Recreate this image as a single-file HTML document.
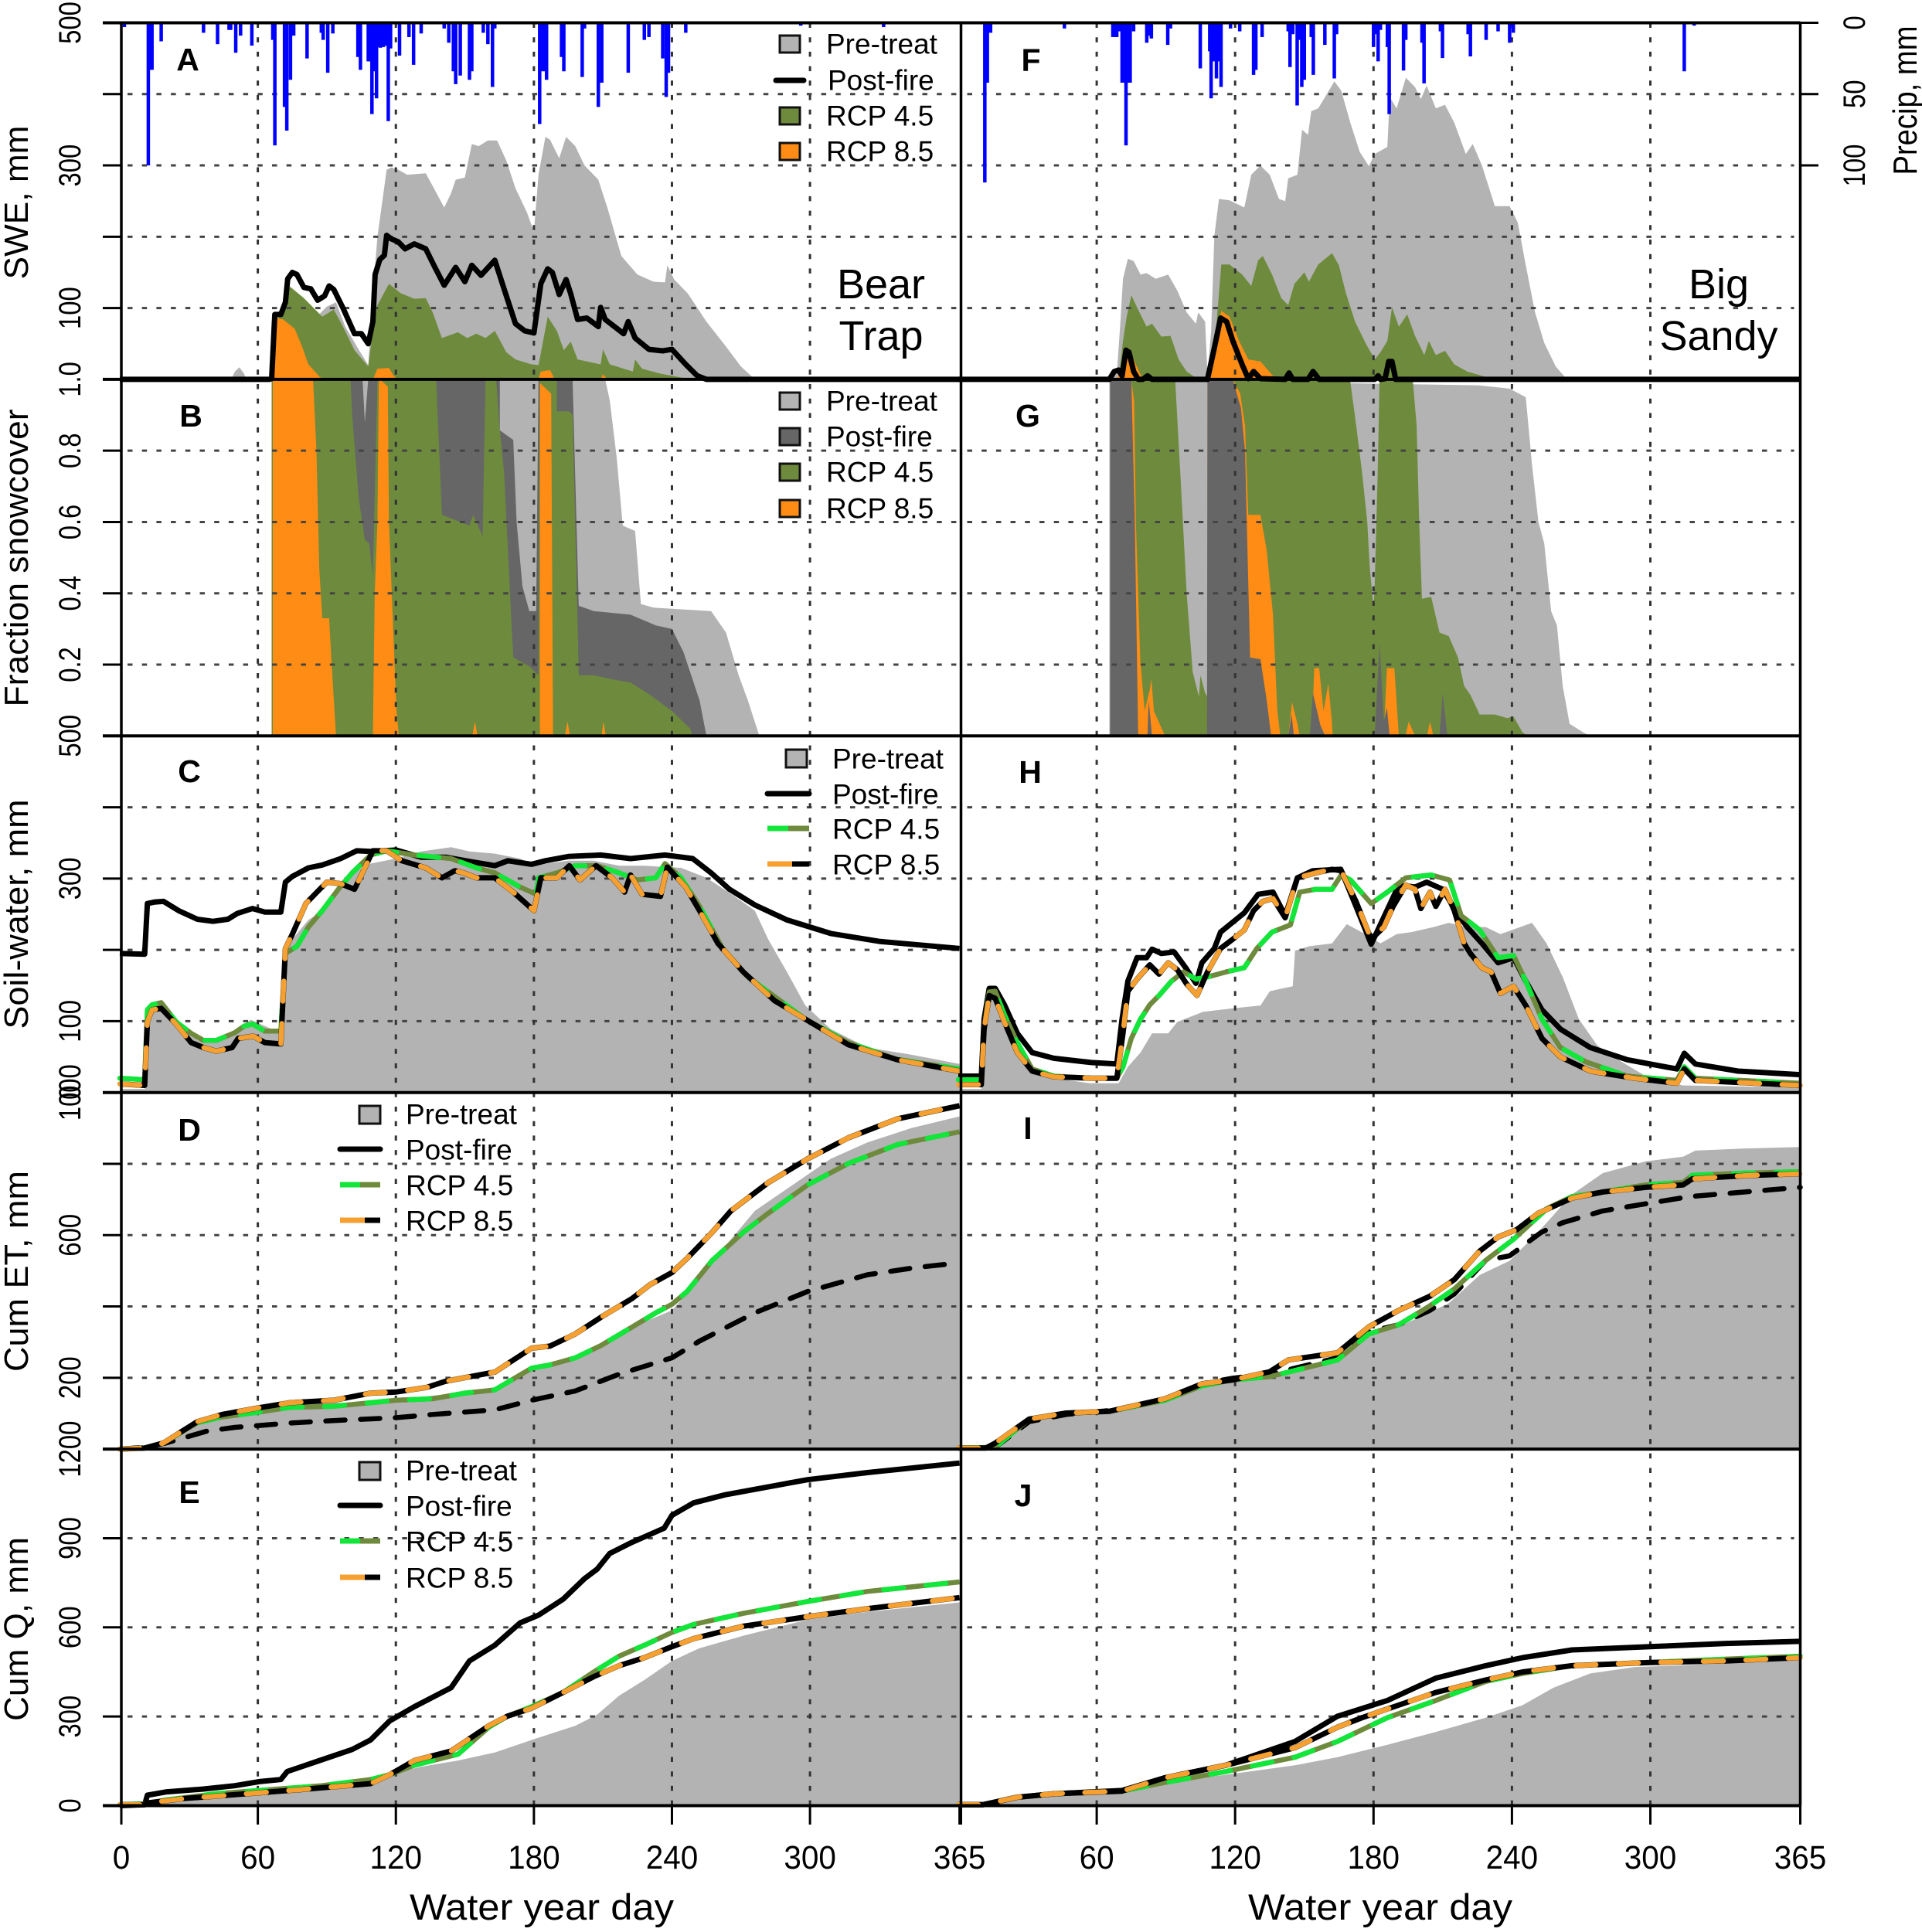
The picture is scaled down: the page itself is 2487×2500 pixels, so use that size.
<!DOCTYPE html>
<html lang="en">
<head>
<meta charset="utf-8">
<title>Snow, soil water, ET and streamflow at Bear Trap and Big Sandy</title>
<style>
html,body{margin:0;padding:0;background:#fff;width:2487px;height:2500px;overflow:hidden}
svg{display:block;font-family:"Liberation Sans",Arial,sans-serif;fill:#000}
.leg{font-size:37px;dominant-baseline:central}
.let{font-size:41px;font-weight:bold;text-anchor:middle;dominant-baseline:central}
.site{font-size:54px;text-anchor:middle}
.ttl{font-size:44px;text-anchor:middle}
.xttl{font-size:47px;text-anchor:middle}
.sw{stroke:#111;stroke-width:3}
</style>
</head>
<body>
<svg id="chart" xmlns="http://www.w3.org/2000/svg" width="2487" height="2500" viewBox="0 0 2487 2500">
<rect x="0" y="0" width="2487" height="2500" fill="#fff"/>
<g id="fills"></g>
<g id="grid"></g>
<g id="lines"></g>
<g id="precip"></g>
<g id="axes"></g>

<g>
<text class="ttl" transform="translate(36,262) rotate(-90)" textLength="199" lengthAdjust="spacingAndGlyphs">SWE, mm</text>
<text class="ttl" transform="translate(36,722) rotate(-90)" textLength="385" lengthAdjust="spacingAndGlyphs">Fraction snowcover</text>
<text class="ttl" transform="translate(36,1183) rotate(-90)" textLength="297" lengthAdjust="spacingAndGlyphs">Soil-water, mm</text>
<text class="ttl" transform="translate(36,1645) rotate(-90)" textLength="260" lengthAdjust="spacingAndGlyphs">Cum ET, mm</text>
<text class="ttl" transform="translate(36,2108) rotate(-90)" textLength="238" lengthAdjust="spacingAndGlyphs">Cum Q, mm</text>
<text class="ttl" transform="translate(2480,130) rotate(-90)" textLength="193" lengthAdjust="spacingAndGlyphs">Precip, mm</text>
</g>
<text class="xttl" x="701" y="2484" textLength="342" lengthAdjust="spacingAndGlyphs">Water year day</text>
<text class="xttl" x="1786" y="2484" textLength="342" lengthAdjust="spacingAndGlyphs">Water year day</text>

<text class="site" x="1140" y="386">Bear</text>
<text class="site" x="1140" y="453">Trap</text>
<text class="site" x="2224" y="386">Big</text>
<text class="site" x="2224" y="453">Sandy</text>

<text class="let" x="243" y="77">A</text>
<text class="let" x="247" y="538">B</text>
<text class="let" x="245" y="998">C</text>
<text class="let" x="245" y="1462">D</text>
<text class="let" x="245" y="1931">E</text>
<text class="let" x="1334" y="78">F</text>
<text class="let" x="1330" y="538">G</text>
<text class="let" x="1333" y="999">H</text>
<text class="let" x="1330" y="1460">I</text>
<text class="let" x="1324" y="1935">J</text>

<g>
<rect class="sw" x="1009" y="46" width="26" height="22" fill="#b3b3b3"/>
<text class="leg" x="1069" y="57">Pre-treat</text>
<line x1="1004" x2="1040" y1="104" y2="104" stroke="#000" stroke-width="7" stroke-linecap="round"/>
<text class="leg" x="1071" y="104">Post-fire</text>
<rect class="sw" x="1009" y="139" width="26" height="22" fill="#6e8b3d"/>
<text class="leg" x="1069" y="150">RCP 4.5</text>
<rect class="sw" x="1009" y="185" width="26" height="22" fill="#ff8c14"/>
<text class="leg" x="1069" y="196">RCP 8.5</text>
</g>
<g>
<rect class="sw" x="1009" y="508" width="26" height="22" fill="#b3b3b3"/>
<text class="leg" x="1069" y="519">Pre-treat</text>
<rect class="sw" x="1009" y="554" width="26" height="22" fill="#666"/>
<text class="leg" x="1069" y="565">Post-fire</text>
<rect class="sw" x="1009" y="600" width="26" height="22" fill="#6e8b3d"/>
<text class="leg" x="1069" y="611">RCP 4.5</text>
<rect class="sw" x="1009" y="647" width="26" height="22" fill="#ff8c14"/>
<text class="leg" x="1069" y="658">RCP 8.5</text>
</g>
<g>
<rect class="sw" x="1017" y="970" width="27" height="23" fill="#b3b3b3"/>
<text class="leg" x="1077" y="982">Pre-treat</text>
<line x1="993" x2="1047" y1="1027" y2="1027" stroke="#000" stroke-width="7" stroke-linecap="round"/>
<text class="leg" x="1077" y="1028">Post-fire</text>
<line x1="1020" x2="1047" y1="1072" y2="1072" stroke="#6e8b3d" stroke-width="7"/>
<line x1="993" x2="1020" y1="1072" y2="1072" stroke="#12e63a" stroke-width="7"/>
<text class="leg" x="1077" y="1073">RCP 4.5</text>
<line x1="1025" x2="1047" y1="1118" y2="1118" stroke="#000" stroke-width="7"/>
<line x1="993" x2="1025" y1="1118" y2="1118" stroke="#f5a030" stroke-width="7"/>
<text class="leg" x="1077" y="1119">RCP 8.5</text>
</g>
<g>
<rect class="sw" x="465" y="1431" width="27" height="23" fill="#b3b3b3"/>
<text class="leg" x="525" y="1442">Pre-treat</text>
<line x1="440" x2="492" y1="1487" y2="1487" stroke="#000" stroke-width="7" stroke-linecap="round"/>
<text class="leg" x="525" y="1488">Post-fire</text>
<line x1="466" x2="492" y1="1533" y2="1533" stroke="#6e8b3d" stroke-width="7"/>
<line x1="440" x2="466" y1="1533" y2="1533" stroke="#12e63a" stroke-width="7"/>
<text class="leg" x="525" y="1534">RCP 4.5</text>
<line x1="472" x2="492" y1="1579" y2="1579" stroke="#000" stroke-width="7"/>
<line x1="440" x2="472" y1="1579" y2="1579" stroke="#f5a030" stroke-width="7"/>
<text class="leg" x="525" y="1580">RCP 8.5</text>
</g>
<g>
<rect class="sw" x="465" y="1892" width="27" height="23" fill="#b3b3b3"/>
<text class="leg" x="525" y="1903">Pre-treat</text>
<line x1="440" x2="492" y1="1948" y2="1948" stroke="#000" stroke-width="7" stroke-linecap="round"/>
<text class="leg" x="525" y="1949">Post-fire</text>
<line x1="466" x2="492" y1="1994" y2="1994" stroke="#6e8b3d" stroke-width="7"/>
<line x1="440" x2="466" y1="1994" y2="1994" stroke="#12e63a" stroke-width="7"/>
<text class="leg" x="525" y="1995">RCP 4.5</text>
<line x1="472" x2="492" y1="2041" y2="2041" stroke="#000" stroke-width="7"/>
<line x1="440" x2="472" y1="2041" y2="2041" stroke="#f5a030" stroke-width="7"/>
<text class="leg" x="525" y="2042">RCP 8.5</text>
</g>
</svg>

<script>
// ---------- tick values and labels ----------
const xTickDays=[0,60,120,180,240,300,365];
const sweTicks=[0,100,200,300,400,500];
const coverTicks=[0,0.2,0.4,0.6,0.8,1];
const soilTicks=[0,100,200,300,400,500];
const etTicks=[0,200,400,600,800,1000];
const qTicks=[0,300,600,900,1200];
const sweLabels=["100","300","500"];
const coverLabels=["0.2","0.4","0.6","0.8","1.0"];
const soilLabels=["0","100","300","500"];
const etLabels=["200","600","1000"];
const qLabels=["0","300","600","900","1200"];
const precipLabels=["0","50","100"];

// ---------- precipitation (day, mm) ----------
const precipBearDays=[2,12.4,13,14,18,36.4,42.5,47.5,48.2,50.4,52.5,57.4,66.5,67.4,71.6,72.6,74.2,75.6,81.4,87.6,88.4,90.4,92.6,103.5,104.6,108,108.6,109.6,110.6,111.6,112.6,113.3,114.6,115.6,116.7,117.7,121.6,125.7,127.7,131,141,143,145,146,148,152,153,158,160,162,163,182.5,184,185.5,192,193,201,202,208,209.5,221,228,230,236,237.5,238.5,246,296,332];
const precipBearMm=[3,100,33,33,13,7,15,5,5,21,9,16,12,86,59,75.6,40,9,25,7,12,35,7.5,24,33,27,27,64,34,53,17,17.5,17,16,69,18,23,10,29.5,7.5,4,14,34,43,37,40,34,7,15,45,4,71,34,40,24,34,38,4,59,42,35,12,10,25,52,35,7,2,3];
const precipSandyDays=[11.5,12.6,14,46,67,68,68.7,70,71,72,72.7,73.5,74.5,76,81.7,83,83.7,90.8,92,104.9,109,109.6,110.5,111.9,113,113.9,118,122,128,129,131.7,143,143.8,145,146.9,147.6,148.9,150,153,153.9,158.9,163,164,180,181,182,183,186,186.8,193,194,201,201.9,209,209.9,221,222,228.8,234,239,240.6,314.7,319];
const precipSandyMm=[112,42,7,4,10,10,10,6,42,42,86,42,42,6,14,9,11,15.5,4,32,20,53,27,39,27,45,4,6,36.5,33,10,6,31,8,58,12,45,40,10,36.5,15.5,39,8,17,8,27,5,17,64,33.5,12,14,42.5,6,24.7,8,23.6,12,6,14,7,34,2];

// ---------- SWE, mm : [day, value] ----------
const sweBearPre=[[48.5,0],[50,11],[52,17],[54,8],[55,0],[65,0],[66,81],[70,89],[74,128],[80,107],[86,89],[90,102],[94,108],[98,74],[104,41],[108,20],[110,121],[112,200],[116,294],[118,297],[121,294],[125,287],[133,289],[136,271],[141,241],[144,261],[146,280],[150,283],[153,330],[156,327],[160,335],[164,335],[168,307],[172,268],[177,234],[180,207],[182,287],[185,340],[187,336],[191,310],[194,340],[198,327],[202,300],[208,280],[212,240],[218,173],[225,147],[232,137],[237,136],[238,160],[241,140],[247,120],[255,81],[263,48],[270,18],[276,0]];
const sweBear45=[[66,0],[66,81],[70,89],[74,130],[80,114],[84,101],[88,88],[93,98],[97,74],[102,41],[108,18],[110,68],[112,104],[117,134],[122,121],[128,113],[133,114],[136,94],[140,58],[147,66],[151,58],[155,64],[159,58],[163,68],[168,38],[172,28],[179,21],[182,20],[184,54],[186,88],[190,68],[193,41],[196,53],[199,28],[209,21],[210,42],[213,21],[223,11],[224,28],[227,15],[235,8],[247,1],[250,0]];
const sweBear85=[[67,0],[67.5,86],[71,84],[76,71],[79,48],[82,21],[87,3],[90,0],[110,0],[112,15],[117,16],[119,5],[121,0],[182,0],[183,11],[187,13],[189,0],[209,0],[210,7],[212,0]];
const sweBearPost=[[0,0],[65,0],[66,1],[67.4,91],[70,91],[72,108],[73,141],[75,150],[77,147],[80,129],[83,127],[86,111],[89,117],[91,131],[93,126],[97,100],[102,64],[105,64],[108,50],[110,81],[111,147],[113,168],[115,174],[116,202],[118,197],[121,193],[124,183],[128,190],[133,183],[137,157],[141,132],[146,157],[150,137],[153,160],[157,146],[163,167],[167,127],[172,78],[176,68],[180,65],[183,134],[186,155],[188,150],[191,119],[194,140],[196,120],[199,84],[203,86],[208,74],[209,101],[211,84],[219,64],[221,81],[224,58],[230,42],[236,40],[240,42],[246,21],[251,5],[255,0],[365,0]];
const sweSandyPre=[[65.5,0],[68.7,8],[70.3,81],[71.4,141],[73.5,169],[76,166],[79,147],[81.6,149],[85.6,141],[91,147],[95,124],[99,94],[103,78],[104,94],[107,81],[108,5],[109.6,68],[111,201],[113,253],[117.6,251],[124,241],[127,287],[131,300],[135,287],[139,253],[141.7,250],[143,282],[147,287],[149,350],[151.6,343],[153,376],[156,380],[159,396],[163,418],[166,405],[170,359],[174,319],[178,299],[180.5,316],[186,326],[187,396],[190,380],[194,423],[198,410],[200.5,393],[203,412],[207,380],[211,385],[215,360],[220,316],[223,330],[227,300],[232.6,243],[239,243],[242.5,220],[246,160],[250,94],[254,51],[259,18],[263,3],[266,0]];
const sweSandy45=[[69.5,0],[71.4,54],[73,88],[75,118],[77.5,101],[81.6,74],[84,78],[88,60],[92,61],[95.5,28],[99,11],[104,0],[108,0],[109.6,8],[112,81],[114,161],[117.6,161],[123,147],[127,131],[130,167],[132,173],[136,147],[140,114],[143,104],[145.7,134],[150,150],[152,137],[156,161],[162,177],[165,160],[168,121],[172,81],[176.5,51],[180.5,28],[183,38],[186,54],[188,101],[191,74],[194.6,91],[198,61],[202,34],[204,54],[207,34],[211,40],[215,21],[220.6,11],[229,3],[234,0]];
const sweSandy85=[[68.7,0],[71,21],[74,44],[77,21],[80,0],[108,0],[111,54],[114,96],[117.6,88],[121.7,54],[125.7,28],[131,25],[137.7,0]];
const sweSandyPost=[[0,0],[65.5,0],[67.6,11],[69.5,13],[71,5],[72.7,41],[74,38],[76,11],[78,0],[80,0],[82,5],[84,0],[108,0],[111,44],[113.7,86],[116.3,81],[119,54],[123,21],[125.7,1],[128,11],[131,1],[141.7,0],[143.4,9],[145,0],[151.6,0],[153.8,11],[156.4,0],[180.5,0],[182,5],[183,0],[185,1],[186.6,25],[188,25],[189.6,0],[365,0]];

// ---------- Fraction snowcover ----------
const coverBearPre=[[66,0],[66,1],[211,1],[213,.94],[216,.78],[218.6,.59],[224,.575],[226.5,.37],[232,.36],[257,.35],[263.5,.29],[269,.17],[273,.10],[278,0]];
const coverBearPost=[[66,0],[66,1],[105.5,1],[106.5,.88],[108,1],[165.2,1],[165.2,.857],[171,.83],[172.5,.60],[175,.42],[178,.35],[181,.35],[182,1],[196.8,1],[199.5,.365],[206,.35],[222,.34],[233,.31],[240,.30],[245,.235],[252,.10],[255,0]];
const coverBear45=[[66,0],[66,1],[100.3,1],[101,.90],[103.8,.67],[106.5,.55],[108.4,.54],[110,.45],[112,1],[137.5,1],[140,.62],[152,.59],[153.6,.62],[157.7,.56],[159,1],[163.6,1],[165,.87],[167,.74],[171,.22],[178,.195],[182,.17],[182.5,1],[190,1],[190,.91],[195.4,.91],[196.8,.90],[199.5,.17],[206,.17],[217,.155],[222,.15],[230.5,.115],[240,.07],[248,.02],[248.8,0]];
const coverBear85=[[66.5,0],[66.5,1],[84,1],[85.5,.80],[86.7,.47],[88,.33],[91,.33],[92,.21],[94,0],[110,0],[110.8,.40],[112,.60],[112.6,.99],[113,1],[116.5,.98],[117,.60],[119,.27],[120.3,.07],[121.3,0],[153.2,0],[154.4,.04],[155.5,0],[182.6,0],[182.6,.99],[187.5,.96],[188.3,0],[193.5,0],[194.6,.04],[195.7,0],[209.4,0],[210.2,.04],[211.3,0]];
const coverSandyPre=[[65.5,0],[65.5,1],[226,.983],[239,.974],[246,.95],[248.7,.76],[251.5,.60],[254,.54],[257,.35],[259.5,.31],[262,.14],[265,.034],[271.4,.008],[274,0]];
const coverSandy45=[[66,0],[67,1],[94,1],[96.2,.74],[99,.40],[101.6,.18],[104.3,.11],[105,.17],[107,.12],[108.3,.107],[109,1],[169.8,1],[172.5,.87],[175,.74],[177.3,.60],[178.4,.47],[180,.36],[180.5,.42],[181.8,.74],[182.6,1],[197,1],[198.7,.87],[199.8,.60],[201,.385],[205,.39],[208.6,.29],[212.6,.28],[216.6,.22],[219.3,.14],[222,.115],[226,.06],[232.6,.06],[238,.05],[240.6,.055],[244.6,.01],[247,0]];
const coverSandy85=[[66,0],[66,1],[74.9,1],[76.2,.94],[77,.60],[78.9,.21],[80.8,.07],[83,.13],[83.7,.16],[84.8,.07],[88.2,.02],[89.6,0],[108,0],[108,1],[119,1],[122.2,.96],[124.3,.87],[125.7,.62],[131,.62],[133.7,.52],[136.4,.34],[138.3,.07],[139.6,0],[143,0],[144.7,.094],[147,.034],[148,0],[153.2,0],[154.3,.19],[156.4,.19],[158.3,.07],[160.4,.147],[161.8,.05],[162.3,0],[184.5,0],[185.8,.19],[189,.19],[191,0],[193.9,0],[195.2,.04],[198,0],[203.2,0],[204.5,.04],[205.9,0]];
const coverSandyPost=[[65.8,0],[65.8,1],[75,1],[76.5,.60],[78,0],[82,0],[82.5,.10],[84,0],[107.8,0],[108,1],[119,1],[122.5,.92],[124.3,.80],[126.5,.22],[131,.215],[133.7,.10],[135.6,0],[143,0],[144.5,.06],[145.5,0],[152.4,0],[153.7,.12],[157,.03],[159,0],[180.5,0],[182.6,.26],[184.5,.04],[185.8,.08],[187,0],[208.6,0],[210,.12],[212,0]];

// ---------- Soil-water, mm ----------
const soilBearPre=[[0,5],[10.8,5],[12,116],[15,123],[18,129],[23,109],[28,89],[34,73],[40.5,70],[47,76],[54,96],[57,102],[66,89],[70,83],[72,195],[75,215],[82,242],[88,255],[95,285],[101,308],[109,321],[120,328],[131,338],[144,344],[152,338],[163,335],[174,328],[179,321],[185,321],[195,325],[206,325],[217,318],[228,318],[244,315],[255,301],[266,278],[276,255],[281.8,215],[290,169],[298,122],[309,89],[325,63],[344,53],[365,40]];
const soilBearPost=[[0,195],[10.8,194],[12,265],[15,267],[19,268],[25.6,255],[33.7,243],[40.5,240],[47,243],[51,251],[57.7,258],[63,253],[70,253],[72,295],[75,303],[82,315],[88,319],[96,328],[103,339],[109,338],[120,340],[131,330],[141.7,330],[152,324],[163,318],[168.7,325],[179,320],[185,325],[195,331],[209,333],[222,328],[237,333],[249,328],[257,308],[265,285],[276,263],[290,242],[309,223],[330,212],[365,202]];
const soilBear45=[[0,20],[10.8,18],[12,116],[14,123],[18,126],[24.5,99],[31,83],[36.4,73],[42,73],[50,84],[54,93],[57.7,96],[63,86],[70,86],[72,195],[77,205],[82,232],[88,255],[95,285],[101,308],[109,333],[116,339],[128,333],[144,328],[155,315],[163,308],[174,288],[181,278],[182,301],[190,308],[198,318],[207.6,318],[217,308],[225,298],[233,301],[237,321],[244,301],[252,261],[262,202],[273,162],[287,129],[298,103],[316.7,70],[338,46.4],[365,33]];
const soilBear85=[[0,12],[10.8,10],[12,99],[14,116],[18,118],[24.5,96],[31,70],[36.4,63],[42,58],[48.8,63],[51.5,76],[58,79],[63,70],[70,68],[72,202],[75,222],[80.9,265],[86,282],[90,295],[95.7,293],[102,285],[106.5,315],[110,339],[116,339],[122.6,325],[133,315],[140,301],[145.6,311],[149.4,308],[155,301],[163,301],[171,281],[180,255],[183,301],[190,301],[195.4,318],[200,298],[207,318],[214,301],[219.4,281],[222,305],[227,278],[235,275],[238,316],[246,288],[252,255],[260,209],[271,169],[284.5,129],[298,103],[316.7,67],[338,46],[365,30]];
const soilSandyPre=[[0,5],[10,5],[11.2,89],[14,142],[16,136],[20,103],[25,63],[32,30],[41.4,20],[57,13],[69.5,13],[73.5,36],[79,56],[84,83],[91,83],[95,99],[106,113],[119,118],[131,122],[135,142],[140.5,146],[145,149],[146,199],[152,205],[162,209],[168.4,236],[176.4,222],[183,209],[190,222],[196.5,225],[206,232],[212.6,238],[220.6,232],[228.6,232],[235,222],[248.7,238],[255,209],[262,162],[269,103],[277,66],[286,46],[298,23],[314,10],[365,7]];
const soilSandyPost=[[0,23],[10,23],[11.2,103],[13.4,146],[16,146],[20,123],[25.6,83],[32,56],[41.4,48],[57.7,42],[68.7,40],[71,103],[73.5,156],[77.5,189],[81.6,189],[84,201],[88,195],[93.6,197],[99,173],[103,153],[105.6,182],[111,202],[113.7,225],[124,252],[130,278],[136.4,281],[141.7,248],[147,301],[153.7,311],[165.8,313],[172.4,261],[179,208],[185.8,255],[191,291],[198,288],[203,295],[210,285],[215,258],[220.6,232],[227,209],[234,182],[240.7,189],[246,156],[253,116],[261,89],[274,63],[290,46],[311.5,33],[314.7,55],[319.5,40],[338,30],[365,25]];
const soilSandy45=[[0,18],[10,18],[11.2,89],[13.4,141],[16,142],[20,109],[25.6,70],[32,33],[41.4,23],[57.7,20],[68.7,20],[71.4,36],[75,76],[79,103],[83,123],[87,136],[92.4,156],[97.6,169],[103,159],[108,162],[116,169],[124,175],[129.4,202],[136,225],[144,235],[148,281],[155,285],[162,285],[166,305],[170,298],[179,265],[186,281],[194,301],[205,305],[213,298],[218,248],[226,228],[234,189],[240.7,192],[246,156],[253,103],[261,63],[272,43],[290,23],[311.5,17],[314.7,36],[319.5,20],[365,13]];
const soilSandy85=[[0,11],[10,11],[11.2,89],[13.4,136],[16,132],[20,99],[25.6,56],[32,30],[41.4,22],[57.7,20],[68.7,20],[71.4,83],[73.5,142],[77.5,159],[83,179],[87,166],[91,182],[95,172],[99,152],[103.5,136],[108,169],[113.7,202],[119,215],[124,228],[128,255],[132,268],[136.4,272],[141.7,245],[147,301],[155,308],[162,313],[166,311],[172.4,268],[179,215],[184.5,232],[188.5,261],[194,291],[198,285],[200.5,258],[204.5,281],[207,261],[211,285],[215,255],[219.3,209],[222,195],[227,175],[231,169],[235,139],[240.7,149],[246,122],[253,76],[261,50],[274,30],[293,20],[311.5,13],[314.7,33],[319.5,17],[365,10]];

// ---------- Cum ET, mm ----------
const etBearPre=[[0,0],[10.8,3],[20,17],[33.7,70],[44.5,97],[60.6,116],[74,130],[98,130],[120,137],[136,150],[163,163],[174,216],[190,236],[206,282],[222.6,342],[240,389],[252,475],[263,568],[276,668],[292.5,741],[309,814],[325,860],[344,900],[365,933]];
const etBearPost=[[0,0],[10.8,5],[20,17],[37.7,50],[50,61],[60.6,66],[74,73],[93,80],[120,88],[136,97],[163,110],[179,137],[198,163],[217,210],[240,256],[252,303],[276,382],[299,442],[325,489],[346,509],[365,522]];
const etBear45=[[0,0],[10.8,3],[18.9,17],[33.7,74],[44.5,90],[60.6,104],[74,117],[93,120],[109,130],[120,137],[136,141],[150,157],[163,166],[179,227],[187,236],[198,256],[209,290],[222.6,342],[233,382],[240,406],[246.6,442],[257.5,529],[271,608],[281.8,661],[299,741],[316.7,801],[338,854],[365,890]];
const etBear85=[[0,0],[10.8,3],[18.9,17],[33.7,77],[44.5,97],[60.6,116],[74,130],[93,137],[109,157],[120,160],[133.4,173],[141.5,190],[163,216],[179,283],[187,289],[198,323],[209,369],[222.6,422],[230.7,462],[240,495],[246.6,535],[257.5,608],[265.6,668],[281.8,747],[299,814],[316.7,873],[338,926],[365,963]];
const etSandyPre=[[0,3],[16,3],[30.7,84],[46.8,104],[65.5,110],[89.6,143],[105.6,183],[119,196],[135,210],[164.4,250],[178,329],[191,343],[212.6,409],[226,488],[239,528],[251.3,608],[266,714],[279.4,774],[298,807],[314.2,820],[319.5,837],[341,843],[365,847]];
const etSandyPost=[[0,3],[16,5],[30.7,77],[46.8,97],[65.5,108],[89.6,137],[105.6,183],[119,199],[135,210],[164.4,256],[178,329],[191,349],[204.5,389],[215,435],[228.6,529],[239,542],[252.7,608],[262,635],[279.4,668],[298,688],[317,708],[341,721],[365,734]];
const etSandy45=[[0,3],[16,5],[30.7,84],[46.8,101],[65.5,106],[89.6,137],[105.6,177],[119,194],[135,203],[164.4,250],[178,323],[191,349],[204.5,402],[215,449],[228.6,529],[240.6,588],[255.3,675],[266,708],[279.4,721],[298,741],[314.2,748],[318.2,768],[341,774],[365,778]];
const etSandy85=[[0,3],[12,3],[16,17],[30.7,84],[46.8,101],[65.5,106],[89.6,141],[105.6,183],[119,194],[135,217],[143,250],[164.4,270],[178,343],[191,389],[204.5,429],[215,475],[226,555],[234,595],[242,615],[251.3,661],[266,704],[279.4,721],[298,734],[314.2,741],[318.2,758],[341,767],[365,772]];

// ---------- Cum Q, mm ----------
const qBearPre=[[0,0],[10.8,3],[28,14],[55,35],[82,62],[109,88],[120,110],[131,131],[147,152],[163,179],[179,221],[198,269],[207.5,306],[217,370],[228,423],[240,487],[252,530],[271,572],[299,626],[325,652],[365,684]];
const qBearPost=[[0,0],[10.8,3],[12,35],[20,46],[36.4,56],[50,67],[60.6,81],[70,88],[72.8,115],[85,147],[101,189],[109,221],[117.3,285],[128,333],[144,397],[152,487],[163,540],[174,615],[182,641],[192.7,695],[202,764],[207.5,796],[213,849],[222.6,886],[236.6,934],[240,977],[249.4,1019],[263,1046],[282,1073],[299,1097],[325,1121],[365,1153]];
const qBear45=[[0,3],[10.8,6],[20,19],[41.8,40],[68.7,56],[87.6,67],[109,88],[117.3,104],[128,136],[147,173],[160.4,264],[168.4,301],[179,333],[192.7,381],[206,450],[217,503],[228,540],[240,583],[249.4,610],[271,647],[299,687],[325,721],[365,753]];
const qBear85=[[0,3],[10.8,3],[12,9],[28,24],[55,40],[77,53],[109,74],[117.3,104],[128,152],[144,184],[160.4,269],[168.4,301],[179,328],[192.7,381],[206,434],[217,471],[228,498],[240,535],[249.4,562],[271,604],[299,636],[325,663],[365,700]];
const qSandyPre=[[0,0],[10.7,0],[25.4,19],[41.4,35],[71,46],[89.6,78],[116,104],[146,136],[164.4,163],[186,205],[207,248],[228.6,296],[244.6,338],[258,397],[274,445],[293,466],[319.5,474],[365,489]];
const qSandyPost=[[0,3],[10.7,3],[25.4,28],[41.4,40],[71,51],[89.6,94],[116,136],[146,216],[164.4,301],[186,354],[207,429],[228.6,471],[244.6,498],[266,524],[300,535],[333,546],[365,553]];
const qSandy45=[[0,3],[10.7,3],[25.4,28],[41.4,40],[71,49],[89.6,78],[116,115],[146,163],[164.4,216],[186,296],[207,354],[228.6,418],[244.6,445],[266,471],[300,482],[333,493],[365,503]];
const qSandy85=[[0,3],[10.7,3],[25.4,28],[41.4,40],[71,49],[89.6,94],[116,136],[146,195],[164.4,264],[175,296],[207,381],[228.6,423],[244.6,450],[266,471],[300,482],[333,487],[365,498]];

// ---------- scales ----------
const SVGNS='http://www.w3.org/2000/svg';
const PANEL_H=461.4, TOP=29.5;
function xBear(d){return 155+2.977*d;}
function xSandy(d){return 1240+2.985*d;}
function yScale(row,max){const bottom=TOP+PANEL_H*(row+1);return function(v){return bottom-v/max*PANEL_H;};}
const ySwe=yScale(0,500), yCover=yScale(1,1), ySoil=yScale(2,500), yEt=yScale(3,1000), yQ=yScale(4,1200);
function yPrecip(mm){return TOP+mm*1.845;}

const COLORS={pre:'#b3b3b3',post:'#666666',r45:'#6e8b3d',r85:'#ff8c14'};
const gFills=document.getElementById('fills'), gGrid=document.getElementById('grid'),
      gLines=document.getElementById('lines'), gPrecip=document.getElementById('precip'),
      gAxes=document.getElementById('axes');

function mk(parent,tag,attrs){const el=document.createElementNS(SVGNS,tag);for(const k in attrs)el.setAttribute(k,attrs[k]);parent.appendChild(el);return el;}
function toPts(data,xf,yf){return data.map(function(p){return xf(p[0]).toFixed(1)+','+yf(p[1]).toFixed(1);}).join(' L');}

function area(data,xf,yf,color,name){
  const base=yf(0).toFixed(1);
  const d='M'+xf(data[0][0]).toFixed(1)+','+base+' L'+toPts(data,xf,yf)+' L'+xf(data[data.length-1][0]).toFixed(1)+','+base+' Z';
  const el=mk(gFills,'path',{d:d,fill:color});
  
  
}
function line(data,xf,yf,color,width,dash,name){
  const attrs={d:'M'+toPts(data,xf,yf),fill:'none',stroke:color,'stroke-width':width,'stroke-linejoin':'round'};
  if(dash){attrs['stroke-dasharray']=dash;attrs['stroke-linecap']='round';}
  const el=mk(gLines,'path',attrs);
  
  
}
function rcp45(data,xf,yf,name){
  line(data,xf,yf,COLORS.r45,6.5,null,name+'-olive');
  line(data,xf,yf,'#12e63a',6.5,'26 29',name+'-green');
}
function rcp85(data,xf,yf,name){
  line(data,xf,yf,'#000',7,null,name+'-black');
  line(data,xf,yf,'#f5a030',6.5,'26 29',name+'-orange');
}

// ---------- fills ----------
area(sweBearPre,xBear,ySwe,COLORS.pre,'swe-bear-pre-treat');
area(sweBear45,xBear,ySwe,COLORS.r45,'swe-bear-rcp45');
area(sweBear85,xBear,ySwe,COLORS.r85,'swe-bear-rcp85');
area(sweSandyPre,xSandy,ySwe,COLORS.pre,'swe-sandy-pre-treat');
area(sweSandy45,xSandy,ySwe,COLORS.r45,'swe-sandy-rcp45');
area(sweSandy85,xSandy,ySwe,COLORS.r85,'swe-sandy-rcp85');
area(coverBearPre,xBear,yCover,COLORS.pre,'cover-bear-pre-treat');
area(coverBearPost,xBear,yCover,COLORS.post,'cover-bear-post-fire');
area(coverBear45,xBear,yCover,COLORS.r45,'cover-bear-rcp45');
area(coverBear85,xBear,yCover,COLORS.r85,'cover-bear-rcp85');
area(coverSandyPre,xSandy,yCover,COLORS.pre,'cover-sandy-pre-treat');
area(coverSandy45,xSandy,yCover,COLORS.r45,'cover-sandy-rcp45');
area(coverSandy85,xSandy,yCover,COLORS.r85,'cover-sandy-rcp85');
area(coverSandyPost,xSandy,yCover,COLORS.post,'cover-sandy-post-fire');
area(soilBearPre,xBear,ySoil,COLORS.pre,'soil-bear-pre-treat');
area(soilSandyPre,xSandy,ySoil,COLORS.pre,'soil-sandy-pre-treat');
area(etBearPre,xBear,yEt,COLORS.pre,'et-bear-pre-treat');
area(etSandyPre,xSandy,yEt,COLORS.pre,'et-sandy-pre-treat');
area(qBearPre,xBear,yQ,COLORS.pre,'q-bear-pre-treat');
area(qSandyPre,xSandy,yQ,COLORS.pre,'q-sandy-pre-treat');

// ---------- lines ----------
line(sweBearPost,xBear,ySwe,'#000',7,null,'swe-bear-post-fire');
line(sweSandyPost,xSandy,ySwe,'#000',7,null,'swe-sandy-post-fire');
line(soilBearPost,xBear,ySoil,'#000',7,null,'soil-bear-post-fire');
rcp45(soilBear45,xBear,ySoil,'soil-bear-rcp45');
rcp85(soilBear85,xBear,ySoil,'soil-bear-rcp85');
line(soilSandyPost,xSandy,ySoil,'#000',7,null,'soil-sandy-post-fire');
rcp45(soilSandy45,xSandy,ySoil,'soil-sandy-rcp45');
rcp85(soilSandy85,xSandy,ySoil,'soil-sandy-rcp85');
line(etBearPost,xBear,yEt,'#000',6.5,'25 20','et-bear-post-fire');
rcp45(etBear45,xBear,yEt,'et-bear-rcp45');
rcp85(etBear85,xBear,yEt,'et-bear-rcp85');
line(etSandyPost,xSandy,yEt,'#000',6.5,'25 20','et-sandy-post-fire');
rcp45(etSandy45,xSandy,yEt,'et-sandy-rcp45');
rcp85(etSandy85,xSandy,yEt,'et-sandy-rcp85');
line(qBearPost,xBear,yQ,'#000',7,null,'q-bear-post-fire');
rcp45(qBear45,xBear,yQ,'q-bear-rcp45');
rcp85(qBear85,xBear,yQ,'q-bear-rcp85');
line(qSandyPost,xSandy,yQ,'#000',7,null,'q-sandy-post-fire');
rcp45(qSandy45,xSandy,yQ,'q-sandy-rcp45');
rcp85(qSandy85,xSandy,yQ,'q-sandy-rcp85');

// ---------- precipitation bars ----------
function bars(days,mm,xf,site){
  days.forEach(function(d,i){
    const el=mk(gPrecip,'line',{x1:xf(d),x2:xf(d),y1:TOP,y2:yPrecip(mm[i]),stroke:'#0000ff','stroke-width':4.5});
    
    
  });
}
bars(precipBearDays,precipBearMm,xBear,'bear');
bars(precipSandyDays,precipSandyMm,xSandy,'sandy');

// ---------- grid ----------
const AX_L=157, AX_M=1243.5, AX_R=2329.5;
const BOTTOM=TOP+PANEL_H*5;
function hGrid(ticks,yf,key){
  ticks.slice(1).forEach(function(v){
    if(yf(v)<=yf(ticks[ticks.length-1]))return;
    [[AX_L+8,AX_M-4],[AX_M+8,AX_R-8]].forEach(function(r,side){
      const el=mk(gGrid,'line',{x1:r[0],x2:r[1],y1:yf(v),y2:yf(v),stroke:'#444','stroke-width':3,'stroke-dasharray':'6.5 12.2'});
      
      
    });
  });
}
hGrid(sweTicks,ySwe,'swe');
hGrid(coverTicks,yCover,'cover');
hGrid(soilTicks,ySoil,'soil');
hGrid(etTicks,yEt,'et');
hGrid(qTicks,yQ,'q');
[xBear,xSandy].forEach(function(xf,side){
  xTickDays.slice(1,6).forEach(function(d){
    const el=mk(gGrid,'line',{x1:xf(d),x2:xf(d),y1:TOP,y2:BOTTOM,stroke:'#333','stroke-width':3,'stroke-dasharray':'6.5 12.2'});
    
    
  });
});

// ---------- axes ----------
function axisLine(x1,y1,x2,y2,w,name){
  const el=mk(gAxes,'line',{x1:x1,y1:y1,x2:x2,y2:y2,stroke:'#000','stroke-width':w});
  
  
}
axisLine(AX_L,TOP,AX_L,BOTTOM,3.5,'left-axis-line');
axisLine(AX_M,TOP,AX_M,BOTTOM,3.5,'middle-axis-line');
axisLine(AX_R,TOP,AX_R,BOTTOM,3.5,'right-axis-line');
for(let r=0;r<=5;r++){
  axisLine(133,TOP+PANEL_H*r,AX_R,TOP+PANEL_H*r,4,'panel-frame-line-'+r);
}
function yTicks(ticks,yf,labels,key){
  ticks.forEach(function(v){axisLine(133,yf(v),AX_L,yf(v),3,'y-tick-'+key+'-'+v);});
  labels.forEach(function(s){
    const t=mk(gAxes,'text',{transform:'translate(104,'+yf(parseFloat(s)).toFixed(1)+') rotate(-90) scale(.82,1)','text-anchor':'middle','font-size':40});
    t.textContent=s;
    
    
  });
}
yTicks(sweTicks,ySwe,sweLabels,'swe');
yTicks(coverTicks,yCover,coverLabels,'cover');
yTicks(soilTicks,ySoil,soilLabels,'soil');
yTicks(etTicks,yEt,etLabels,'et');
yTicks(qTicks,yQ,qLabels,'q');
[xBear,xSandy].forEach(function(xf,side){
  xTickDays.forEach(function(d){
    const px=(d===0)?(side===0?AX_L:AX_M):xf(d);
    axisLine(px,BOTTOM,px,2361,3,'x-tick-'+d+'-'+side);
    if(side===1&&d===0)return;
    const s=String(d);
    const t=mk(gAxes,'text',{x:px,y:2418,'text-anchor':'middle','font-size':43,textLength:s.length*22.5,lengthAdjust:'spacingAndGlyphs'});
    t.textContent=s;
    
    
  });
});
precipLabels.forEach(function(s){
  const v=parseFloat(s), y=yPrecip(v);
  axisLine(AX_R,y,2353,y,3,'precip-tick-'+s);
  const t=mk(gAxes,'text',{transform:'translate(2413,'+y.toFixed(1)+') rotate(-90) scale(.82,1)','text-anchor':'middle','font-size':40});
  t.textContent=s;
  
  
});
</script>
</body>
</html>
